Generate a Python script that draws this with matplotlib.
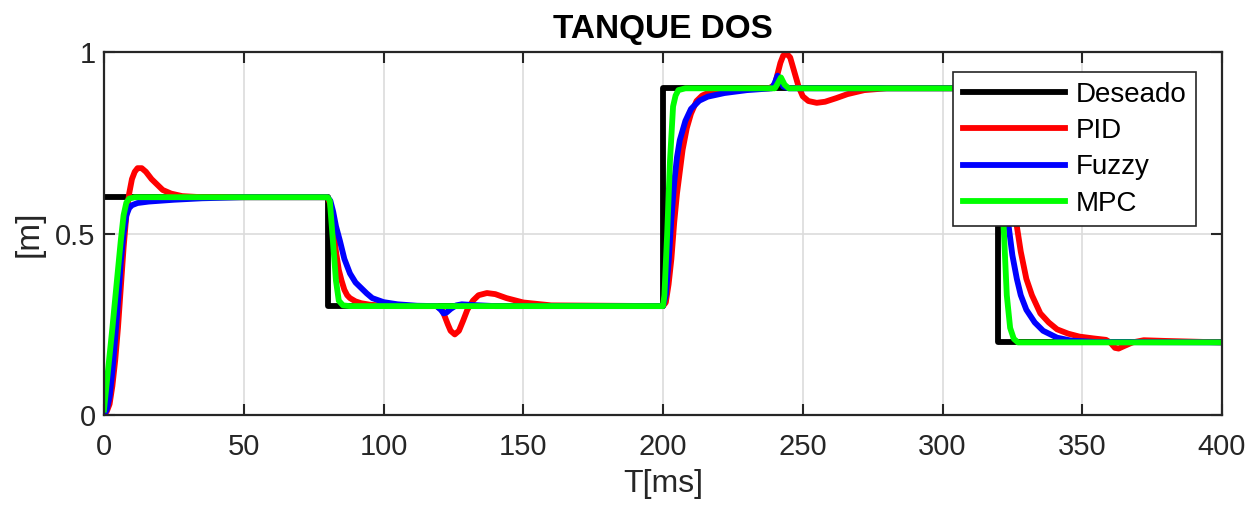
import matplotlib
matplotlib.use("Agg")
import matplotlib.pyplot as plt

# setpoint
t_des = [0, 80, 80, 200, 200, 320, 320, 400]
y_des = [0.6, 0.6, 0.3, 0.3, 0.9, 0.9, 0.2, 0.2]

# PID response
t_pid = [0, 1, 2, 3, 4, 5, 6, 7, 8, 9, 10, 11, 12, 13.5, 15, 17, 19, 21, 24, 28, 35,
         80, 81, 82, 83, 84, 85, 86, 87, 88, 90, 92, 95, 100, 110,
         119, 121, 122, 123, 124, 125.5, 127, 128.5, 130, 132, 134, 137, 140, 144, 150, 160,
         200, 201, 202, 203, 204, 205, 206, 207, 208.5, 210, 212, 214, 216, 220, 225,
         238, 240, 241, 242, 243, 244.3, 245.5, 247, 248.5, 250, 252, 255, 258, 262, 266, 272, 280,
         320, 321, 322, 323, 324, 325, 326.6, 328, 330, 332, 335, 338, 341, 345, 349, 354, 358.5,
         360, 361.7, 363, 365, 368, 372, 380, 400]
y_pid = [0.0, 0.01, 0.03, 0.08, 0.15, 0.24, 0.35, 0.46, 0.55, 0.61, 0.65, 0.67, 0.68, 0.68, 0.67, 0.65, 0.635, 0.62, 0.61, 0.603, 0.6,
         0.6, 0.58, 0.52, 0.45, 0.40, 0.37, 0.345, 0.33, 0.322, 0.313, 0.308, 0.304, 0.301, 0.3,
         0.3, 0.29, 0.27, 0.25, 0.232, 0.222, 0.232, 0.26, 0.29, 0.315, 0.33, 0.336, 0.333, 0.322, 0.31, 0.302,
         0.3, 0.31, 0.36, 0.43, 0.53, 0.61, 0.67, 0.73, 0.79, 0.83, 0.865, 0.88, 0.887, 0.894, 0.898,
         0.9, 0.91, 0.94, 0.97, 0.99, 0.995, 0.985, 0.945, 0.905, 0.878, 0.865, 0.86, 0.863, 0.873, 0.884, 0.895, 0.9,
         0.9, 0.89, 0.85, 0.78, 0.7, 0.62, 0.52, 0.45, 0.375, 0.33, 0.28, 0.255, 0.236, 0.224, 0.216, 0.211, 0.207,
         0.2, 0.185, 0.183, 0.19, 0.2, 0.206, 0.204, 0.2]

# Fuzzy response
t_fuz = [0, 1, 2, 3, 4, 5, 6, 7, 8, 9, 10, 12, 16, 25, 35, 50,
         80, 81, 82, 83, 84.4, 86, 88, 90, 92, 94, 96, 100, 105, 112,
         119, 120.5, 121.5, 122.5, 124, 126, 128, 132, 140,
         200, 201, 202, 203, 204, 205, 206, 208, 210, 213, 216, 222, 230,
         239, 240, 241, 242, 243, 245,
         320, 320.6, 321.5, 322.5, 323.5, 325, 326.6, 328, 330, 333, 336, 341, 346, 355, 400]
y_fuz = [0.0, 0.015, 0.05, 0.12, 0.21, 0.31, 0.42, 0.5, 0.55, 0.57, 0.578, 0.584, 0.588, 0.593, 0.597, 0.6,
         0.6, 0.59, 0.56, 0.52, 0.48, 0.43, 0.39, 0.365, 0.35, 0.335, 0.322, 0.311, 0.305, 0.301,
         0.3, 0.29, 0.28, 0.282, 0.292, 0.302, 0.305, 0.303, 0.3,
         0.3, 0.33, 0.42, 0.54, 0.64, 0.71, 0.757, 0.81, 0.843, 0.866, 0.877, 0.887, 0.895,
         0.9, 0.915, 0.935, 0.925, 0.905, 0.9,
         0.9, 0.88, 0.78, 0.64, 0.53, 0.44, 0.375, 0.33, 0.29, 0.255, 0.232, 0.213, 0.205, 0.201, 0.2]

# MPC response
t_mpc = [0, 1, 2, 3, 4, 5, 6, 7, 8, 9, 11,
         80, 80.8, 82, 83, 84, 85.5, 88,
         200, 200.5, 201.5, 202.5, 203.6, 204.5, 205.5, 208,
         240, 240.8, 242.2, 243.5, 245,
         320, 320.6, 321.7, 323, 324.2, 325.5, 327, 400]
y_mpc = [0.015, 0.09, 0.165, 0.24, 0.32, 0.4, 0.48, 0.55, 0.585, 0.596, 0.6,
         0.6, 0.59, 0.47, 0.37, 0.315, 0.302, 0.3,
         0.3, 0.33, 0.5, 0.7, 0.85, 0.88, 0.895, 0.9,
         0.9, 0.91, 0.93, 0.91, 0.9,
         0.9, 0.87, 0.55, 0.33, 0.24, 0.21, 0.2, 0.2]

plt.rcParams['font.family'] = ['Liberation Sans', 'DejaVu Sans']

fig = plt.figure(figsize=(12.5, 5.14), dpi=100)
ax = fig.add_axes([0.0832, 0.1926, 0.8944, 0.7062])

lw = 4.2
ax.plot(t_des, y_des, color='black', lw=lw, label='Deseado')
ax.plot(t_pid, y_pid, color='#ff0000', lw=lw, label='PID')
ax.plot(t_fuz, y_fuz, color='#0000ff', lw=lw, label='Fuzzy')
ax.plot(t_mpc, y_mpc, color='#00ff00', lw=lw, label='MPC')

ax.set_xlim(0, 400)
ax.set_ylim(0, 1)
ax.set_xticks(range(0, 401, 50))
ax.set_yticks([0, 0.5, 1])
ax.set_yticklabels(['0', '0.5', '1'])
ax.grid(True, color='#dcdcdc', lw=1.2)
ax.set_axisbelow(True)
for s in ax.spines.values():
    s.set_color('#262626')
    s.set_linewidth(1.6)
ax.tick_params(direction='in', length=8, width=1.5, top=True, right=True,
               labelsize=21, colors='#262626')
ax.tick_params(axis='x', pad=13)
ax.tick_params(axis='y', pad=6)

ax.set_title('TANQUE DOS', fontsize=24, fontweight='bold', pad=10)
ax.set_xlabel('T[ms]', fontsize=23, color='#262626', labelpad=6)
ax.set_ylabel('[m]', fontsize=24, color='#262626', labelpad=8)

leg = ax.legend(loc='upper right', bbox_to_anchor=(0.9767, 0.945), borderaxespad=0,
                fontsize=20, handlelength=3.7, handletextpad=0.36, labelspacing=0.37,
                fancybox=False, framealpha=1, edgecolor='#262626', borderpad=0.35)
leg.get_frame().set_linewidth(1.2)

fig.savefig('out.png', dpi=100)
